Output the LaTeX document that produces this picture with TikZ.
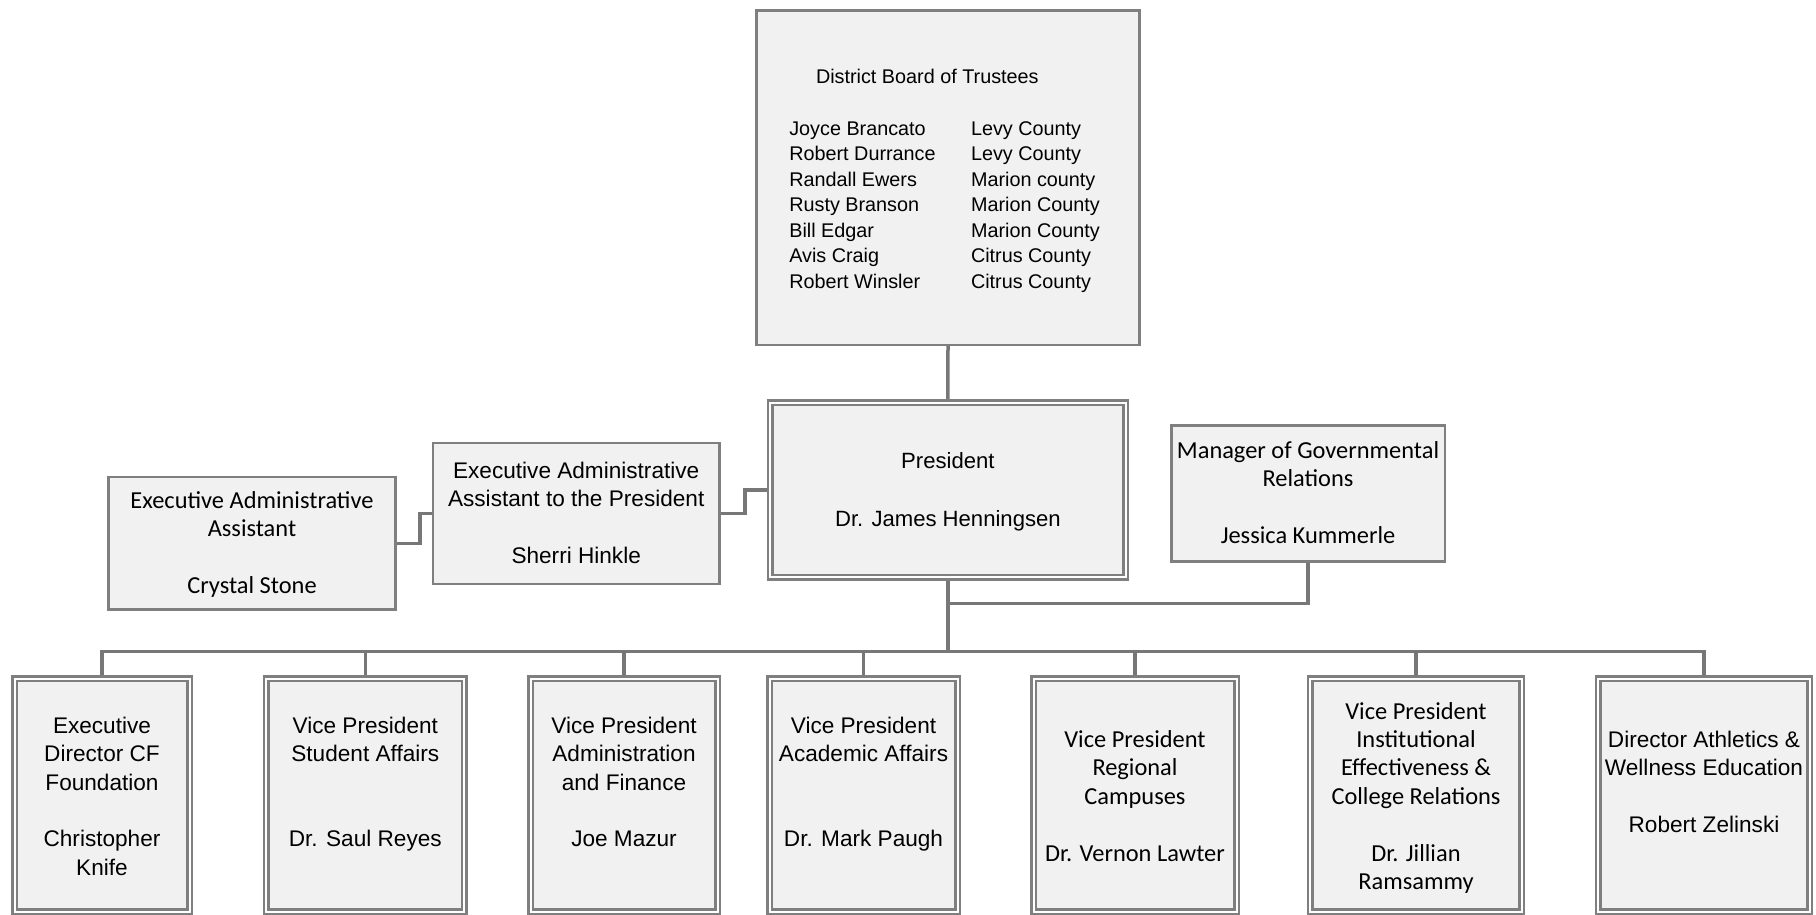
\documentclass[tikz,border=0pt]{standalone}
\usepackage{fontspec}
\setmainfont{Liberation Sans}
\newfontfamily\calfont{Carlito}
\usetikzlibrary{backgrounds,calc}
\definecolor{boxfill}{HTML}{F1F1F1}
\definecolor{edgegray}{HTML}{7F7F7F}
\definecolor{wiregray}{HTML}{777777}
\newcommand\upr[1]{\rule{0pt}{#1pt}}
\newcommand\dnr{\rule[-8.5pt]{0pt}{8.5pt}}
\begin{document}
\begin{tikzpicture}[x=1pt,y=-1pt,
  single/.style={draw=edgegray, line width=2.5pt, fill=boxfill, inner sep=0pt, outer sep=0pt, align=center, text=black},
  dbl/.style={draw=edgegray, line width=2.5pt, double=white, double distance=2pt, fill=boxfill, inner sep=0pt, outer sep=0pt, align=center, text=black},
  bottombox/.style={dbl, minimum height=233pt},
  lib/.style={font=\fontsize{22.6}{28.4}\selectfont},
  cal/.style={font=\calfont\fontsize{24.4}{28.4}\selectfont},
  boardtxt/.style={font=\fontsize{19.8}{25.5}\selectfont, inner sep=0pt, outer sep=0pt, text=black},
  wire/.style={draw=wiregray, line width=3.5pt, line join=miter}
]
\useasboundingbox (0,0) rectangle (1816,914);

% Board
\node[single, minimum width=383.2pt, minimum height=334.5pt] (board) at (948,177.5) {};
\node[boardtxt, anchor=base west] (btitle) at (816,83.7) {District Board of Trustees};
\node[boardtxt, anchor=north west, align=left] (bnames) at (789.3,121.5)
  {Joyce Brancato\\Robert Durrance\\Randall Ewers\\Rusty Branson\\Bill Edgar\\Avis Craig\\Robert Winsler};
\node[boardtxt, anchor=north west, align=left] (bcounty) at (971,121.5)
  {Levy County\\Levy County\\Marion county\\Marion County\\Marion County\\Citrus County\\Citrus County};

% President
\node[dbl, minimum width=355.3pt, minimum height=174.7pt, font=\fontsize{22.1}{29.3}\selectfont] (pres) at (947.9,489.9)
  {\upr{23.3}President\\[\baselineskip]Dr. James Henningsen\dnr};

% Assistants
\node[single, lib, minimum width=286.5pt, minimum height=141pt] (sherri) at (576.2,513.7)
  {\upr{22.9}Executive Administrative\\Assistant to the President\\[\baselineskip]Sherri Hinkle\dnr};
\node[single, cal, minimum width=286.9pt, minimum height=132.2pt] (crystal) at (252,543.3)
  {\upr{23.1}Executive Administrative\\Assistant\\[\baselineskip]Crystal Stone\dnr};

% Manager
\node[single, cal, minimum width=273.5pt, minimum height=135.9pt] (mgr) at (1308,493.5)
  {\upr{23.3}Manager of Governmental\\Relations\\[\baselineskip]Jessica Kummerle\dnr};

% Bottom row
\node[bottombox, lib, minimum width=175pt] (b1) at (102,795)
  {\upr{27.1}Executive\\Director CF\\Foundation\\[\baselineskip]Christopher\\Knife\dnr};
\node[bottombox, lib, minimum width=197.7pt] (b2) at (365.3,795)
  {\upr{27.1}Vice President\\Student Affairs\\[2\baselineskip]Dr. Saul Reyes\\\dnr};
\node[bottombox, lib, minimum width=187pt] (b3) at (624,795)
  {\upr{27.1}Vice President\\Administration\\and Finance\\[\baselineskip]Joe Mazur\\\dnr};
\node[bottombox, lib, minimum width=188pt] (b4) at (863.5,795)
  {\upr{27.1}Vice President\\Academic Affairs\\[2\baselineskip]Dr. Mark Paugh\\\dnr};
\node[bottombox, cal, minimum width=203pt] (b5) at (1135,795)
  {\upr{27.1}Vice President\\Regional\\Campuses\\[\baselineskip]Dr. Vernon Lawter\dnr};
\node[bottombox, cal, minimum width=211.8pt] (b6) at (1416,795)
  {\upr{27.1}Vice President\\Institutional\\Effectiveness \&\\College Relations\\[\baselineskip]Dr. Jillian\\Ramsammy\dnr};
\node[bottombox, lib, minimum width=211.6pt] (b7) at (1704,795)
  {\upr{27.1}Director Athletics \&\\Wellness Education\\[\baselineskip]Robert Zelinski\\\dnr};

% helper coordinates
\coordinate (bus) at (948,651.7);
\coordinate (mj) at (948,603.3);
\coordinate (s1) at (420,528);

\begin{scope}[on background layer]
\draw[wire] (board.south) -- (pres.north);
\draw[wire] (pres.south) -- (pres.south |- bus);
\draw[wire] (mgr.south) |- (mj);
\draw[wire] (sherri.east) -| ($(sherri.east)!0.5!(pres.west)$) |- (pres.west);
\draw[wire] (crystal.east) -| (s1) |- (sherri.west);
\draw[wire] (b1.north) -- (b1.north |- bus) -- (b7.north |- bus) -- (b7.north);
\foreach \b in {b2,b3,b4,b5,b6} \draw[wire] (\b.north) -- (\b.north |- bus);
\end{scope}
\end{tikzpicture}
\end{document}
